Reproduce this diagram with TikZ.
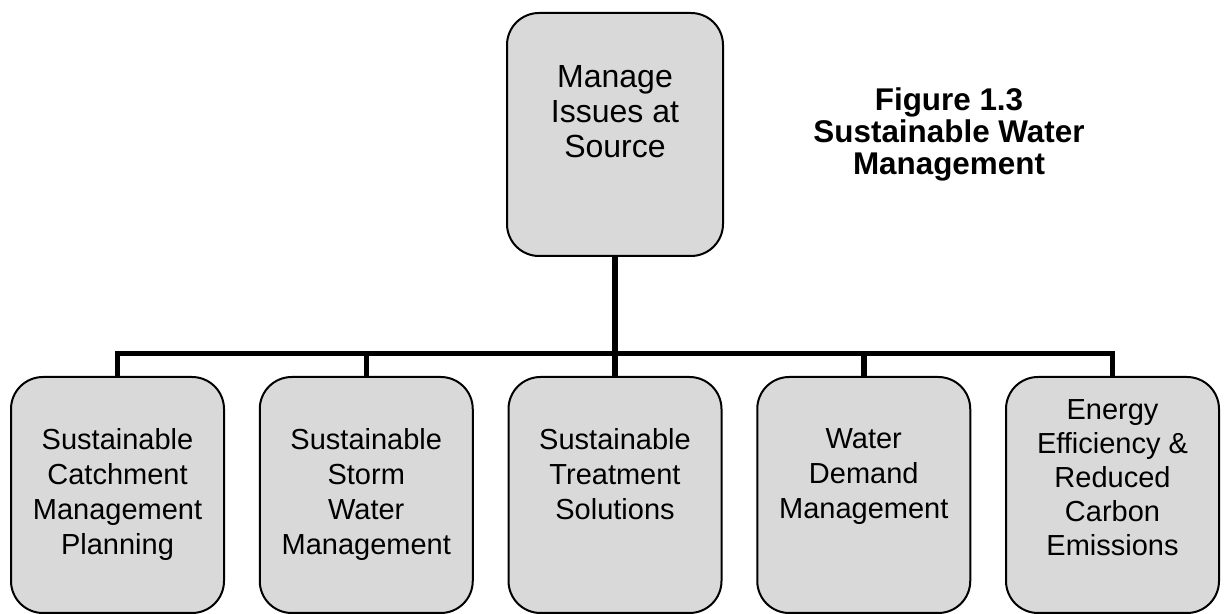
\documentclass[tikz,border=0pt]{standalone}
\usepackage{fontspec}
\setmainfont{Liberation Sans}
\usetikzlibrary{positioning}

\definecolor{boxgray}{RGB}{217,217,217}

\tikzset{
  box/.style={draw=black, line width=1pt, fill=boxgray, rounded corners=16pt, inner sep=0pt},
  topbox/.style={box, minimum width=108pt, minimum height=121.5pt},
  subbox/.style={box, minimum width=106.5pt, minimum height=118pt},
  boxtext/.style={align=center, inner sep=0pt, font=\fontsize{14.5}{17.5}\selectfont},
  title/.style={align=center, inner sep=0pt, anchor=north, font=\bfseries\fontsize{15.7}{16}\selectfont},
  link/.style={line width=2.75pt},
}

\begin{document}
\begin{tikzpicture}[x=0.5pt,y=-0.5pt]
  % Page frame
  \useasboundingbox (0,0) rectangle (1227,614);
  % The source box at the top
  \node[topbox] (src) at (615,134.5) {};
  \node[boxtext, below=26.5pt of src.north, font=\fontsize{16}{17.5}\selectfont] (srctxt) {Manage\\Issues at\\Source};
  % Caption on the right
  \node[title] (caption) at (949,87) {Figure 1.3\\Sustainable Water\\Management};
  % The five boxes along the bottom
  \node[subbox] (b1) at (117.5,495) {};
  \node[subbox] (b2) at (366.25,495) {};
  \node[subbox] (b3) at (615,495) {};
  \node[subbox] (b4) at (863.75,495) {};
  \node[subbox] (b5) at (1112.5,495) {};
  \node[boxtext, below=26pt of b1.north] (t1) {Sustainable\\Catchment\\Management\\Planning};
  \node[boxtext, below=26pt of b2.north] (t2) {Sustainable\\Storm\\Water\\Management};
  \node[boxtext, below=26pt of b3.north] (t3) {Sustainable\\Treatment\\Solutions};
  \node[boxtext, below=26pt of b4.north] (t4) {Water\\Demand\\Management};
  \node[boxtext, below=11.5pt of b5.north, font=\fontsize{14.5}{17}\selectfont] (t5) {Energy\\Efficiency \&\\Reduced\\Carbon\\Emissions};
  % Tree lines
  \coordinate (bar) at (0,353.5);
  \draw[link] (src.south) -- (src.south |- bar);
  \draw[link] (b1.north) |- (bar -| b5.north) -- (b5.north);
  \foreach \i in {2,3,4}
    \draw[link] (b\i.north) -- (b\i.north |- bar);
\end{tikzpicture}
\end{document}
